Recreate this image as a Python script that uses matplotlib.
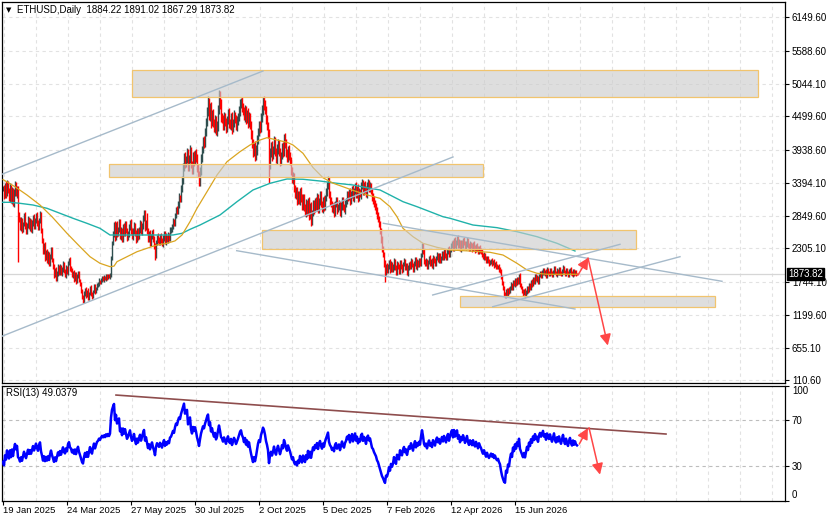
"""ETHUSD daily chart with MA, zones, trendlines and RSI(13) panel (MT4 style)."""

import matplotlib
matplotlib.use("Agg")
import matplotlib.pyplot as plt
import matplotlib.transforms as mtransforms
from matplotlib.patches import Rectangle
import numpy as np
import pandas as pd

plt.rcParams["font.family"] = ["Liberation Sans", "DejaVu Sans"]

W, H, DPI = 831, 521, 100

SYMBOL = "ETHUSD,Daily"
RSI_LABEL = "RSI(13) 49.0379"

# === Daily closes (bar 0 = 19 Jan 2025); open of a bar = previous close ===
PRE_CLOSE = [3350, 3250, 3400, 3300, 3200, 3350, 3450, 3300, 3250, 3400,
             3300, 3200, 3350, 3250, 3300]
CLOSE = [
    3300, 3180, 3350, 3220, 3400, 3250, 3150, 3320, 3100, 3280, 3050, 3230, 3380, 3200, 3300,
    2860,
    2800, 2650, 2760, 2600, 2720, 2840, 2700, 2580, 2690, 2800, 2650, 2750, 2620, 2710, 2820,
    2680, 2760, 2860, 2740, 2650, 2780, 2860,
    2600, 2450, 2250, 2350, 2150,
    2250, 2100, 2200, 2050, 2180, 2280, 2120, 2000,
    1850, 1950, 1800, 1900, 2000,
    1900, 2000, 1880, 1960, 2050, 1920, 1870, 1980, 1900, 2060, 2110, 1980,
    1950, 1850, 1900, 1800, 1880, 1760, 1840, 1900, 1780, 1700,
    1600, 1500, 1450, 1550, 1620, 1520, 1600, 1480, 1560, 1650, 1550, 1500, 1600, 1680, 1580,
    1640, 1700,
    1720, 1760, 1740, 1780, 1810, 1790, 1820, 1800, 1840, 1820, 1850, 1830, 1860,
    2150, 2400, 2550,
    2700, 2480, 2700, 2550, 2620, 2750, 2500, 2600, 2450, 2680, 2560, 2720, 2600, 2480, 2550,
    2650, 2750, 2600, 2500, 2580, 2700, 2550, 2450, 2600, 2500, 2620, 2720, 2580, 2680, 2800,
    2900, 2650,
    2750, 2600, 2450, 2550, 2400, 2500, 2580, 2450, 2350, 2200, 2400, 2500, 2450,
    2400, 2500, 2450, 2380, 2480, 2550, 2420, 2500, 2450, 2520, 2480, 2600,
    2620, 2680, 2750, 2720, 2850, 2950, 2930, 3050, 3150, 3130, 3300, 3450,
    3650, 3850, 3700, 3800, 3900, 3650, 3800, 3950, 3700, 3600, 3850, 3750, 3900, 3800, 3650,
    3550, 3400, 3600,
    3800, 3950, 4100, 4050, 4250, 4400,
    4600, 4750, 4500, 4650, 4400, 4550,
    4400, 4300, 4450, 4250, 4350,
    4600, 4850, 4700, 4500,
    4450, 4350, 4500, 4400, 4300, 4450, 4550, 4400, 4350, 4480, 4300, 4400, 4520, 4450, 4350,
    4420, 4500, 4600, 4700,
    4750, 4650, 4600,
    4500, 4600, 4450, 4550, 4400, 4500, 4350,
    4200, 4050, 3900, 4000, 3850, 3950,
    4100, 4250, 4350, 4300, 4500, 4600,
    4750, 4700, 4600, 4450, 4350,
    4200, 3700, 3900,
    4000, 3850, 3950, 4100, 3900, 3800, 3950, 4050, 3900, 3750, 3850, 4000, 3900, 4150, 4050,
    3900, 3800, 3950, 3850, 3750,
    3600, 3450, 3500, 3300, 3200, 3250, 3100,
    3200, 3100, 3250, 3150, 3000, 3150, 3000, 2900,
    3050, 2900, 3100, 2850, 3000, 2750, 2900, 3050, 2950, 3100,
    3000, 3150, 2950, 3100, 3200, 3050, 2950, 3100, 3000, 3150, 3250, 3350, 3450, 3200, 3100,
    3050, 2950, 3000, 2900, 3050, 3100, 2950, 3000, 3050, 2900, 3000, 3100, 3000, 2950, 3050,
    3100, 3200, 3150, 3250, 3100, 3200, 3300, 3150, 3250, 3350, 3200, 3300, 3150, 3250, 3200,
    3350, 3400, 3250, 3350, 3300, 3200, 3350, 3400, 3300, 3350,
    3250, 3150, 3120, 3050, 3000, 2950, 2850, 2800, 2700, 2600,
    2450, 2300, 2200,
    2050, 1900, 2000, 1950, 2000, 2080, 1950,
    2050, 1950, 2000, 2100, 1980, 1900, 2050, 2000, 1920, 2080, 2000, 1950, 2050, 2100, 1980,
    2030, 1900, 1980, 2050, 2000, 2100, 2030, 1950, 2050, 2120, 2000, 2080, 2030, 2100, 2050,
    2200, 2350, 2250, 2100, 2050,
    2100, 2000, 2080, 2150, 2050, 2100, 2020, 2150, 2100, 2050, 2150, 2200, 2120, 2180, 2100,
    2150, 2220, 2150, 2250, 2200, 2150, 2250, 2300, 2200, 2280,
    2350, 2400, 2300, 2450, 2350, 2400, 2480, 2350, 2420, 2300, 2400, 2350, 2450, 2400, 2320,
    2380, 2450, 2350, 2300, 2380,
    2350, 2300, 2380, 2320, 2280, 2350, 2300, 2250, 2320, 2280,
    2250, 2200, 2160, 2200, 2150, 2100, 2140, 2090, 2060, 2080,
    2100, 2060, 2080, 2030, 2050, 2010, 1990, 2000, 1960, 1930,
    1830, 1730, 1640, 1550, 1510,
    1600, 1550, 1620, 1580, 1650,
    1700, 1650, 1750, 1700, 1780, 1720, 1800,
    1750, 1850, 1700, 1650, 1600,
    1550, 1600, 1520, 1580, 1650, 1600, 1700, 1650,
    1750, 1700, 1800, 1750, 1850, 1780, 1820, 1750, 1850, 1900,
    1850, 1900, 1950, 1880, 1920, 1850, 1950, 1900,
    1880, 1950, 1900, 1860, 1920, 1980, 1900, 1870, 1940, 1890, 1960, 1910, 1870, 1930, 1990,
    1920, 1880, 1950, 1900, 1860, 1920, 1960, 1900, 1870, 1930, 1880, 1920, 1884.22, 1873.82,
]
# approximate shadow length beyond the body, per bar (price units)
SHADOW = [
    40, 60, 35, 70, 45, 30, 55, 65, 40, 50, 35, 60, 45, 30, 50, 40, 55, 35, 60, 45, 30, 50, 65, 40, 35,
    45, 30, 55, 40, 60, 35, 50, 45, 30, 55, 40, 35, 60, 45, 50, 30, 40, 55, 35, 45, 60, 40, 30, 50, 45,
    30, 40, 25, 45, 35, 50, 30, 40, 25, 35, 45, 30, 40, 50, 25, 35, 30, 45, 40, 25, 35, 50, 30, 40, 35,
    25, 35, 20, 40, 30, 25, 45, 30, 35, 20, 40, 25, 30, 45, 35, 20, 30, 40, 25, 35, 30, 45, 25, 35, 30,
    30, 40, 25, 35, 45, 30, 25, 40, 35, 30, 45, 50, 60, 40, 55, 35, 50, 45, 60, 40, 35, 55, 45, 40, 50,
    40, 55, 35, 50, 45, 60, 40, 35, 55, 45, 50, 40, 60, 35, 45, 55, 40, 50, 35, 60, 45, 40, 55, 50, 35,
    45, 60, 40, 50, 35, 55, 45, 40, 60, 35, 50, 45, 40, 55, 35, 50, 45, 60, 40, 35, 55, 45, 50, 40, 60,
    50, 70, 45, 60, 55, 75, 50, 65, 45, 70, 55, 60, 75, 50, 65, 55, 70, 45, 60, 75, 55, 50, 65, 70, 60,
    60, 80, 55, 75, 65, 90, 60, 70, 85, 55, 75, 65, 80, 60, 70, 90, 55, 75, 85, 60, 70, 80, 65, 75, 60,
    70, 85, 60, 75, 90, 65, 80, 55, 75, 85, 60, 70, 90, 65, 80, 75, 60, 85, 70, 65, 90, 75, 60, 80, 70,
    75, 60, 85, 70, 90, 65, 80, 75, 60, 85, 70, 90, 65, 75, 80, 60, 85, 70, 75, 90, 65, 80, 60, 75, 85,
    70, 55, 80, 65, 60, 75, 55, 70, 80, 60, 65, 75, 55, 70, 60, 80, 65, 55, 75, 70, 60, 55, 65, 75, 60,
    55, 65, 50, 70, 60, 45, 65, 55, 70, 50, 60, 65, 45, 55, 70, 60, 50, 65, 55, 45, 60, 70, 50, 55, 65,
    60, 50, 65, 55, 45, 60, 70, 50, 55, 65, 45, 60, 50, 70, 55, 60, 45, 65, 50, 55, 60, 45, 65, 55, 50,
    55, 65, 45, 60, 50, 70, 55, 45, 65, 60, 50, 55, 70, 45, 60, 65, 50, 55, 45, 60, 70, 50, 55, 65, 50,
    55, 45, 60, 50, 55, 45, 50, 60, 45, 55, 50, 40, 55, 45, 35, 40, 50, 35, 45, 40, 30, 45, 35, 40, 50,
    35, 45, 30, 40, 35, 50, 30, 45, 40, 35, 30, 45, 40, 35, 50, 30, 40, 45, 35, 30, 40, 50, 35, 45, 30,
    40, 35, 45, 30, 40, 50, 35, 45, 30, 40, 35, 50, 45, 30, 40, 35, 45, 50, 30, 40, 35, 45, 30, 40, 35,
    45, 35, 40, 50, 35, 45, 40, 30, 50, 40, 35, 45, 30, 40, 50, 35, 45, 40, 30, 50, 35, 40, 45, 35, 40,
    40, 30, 45, 35, 40, 30, 45, 35, 30, 40, 35, 45, 30, 35, 40, 30, 45, 35, 40, 30, 35, 45, 30, 40, 35,
    30, 40, 35, 25, 40, 30, 35, 25, 40, 30, 35, 25, 30, 40, 25, 35, 30, 40, 25, 35, 30, 25, 40, 30, 35,
    30, 25, 35, 30, 40, 25, 35, 30, 25, 40, 30, 35, 25, 30, 40, 35, 25, 30, 35, 40, 25, 30, 35, 30, 25,
    30, 35, 25, 30, 35, 25, 30, 40, 25, 30, 35, 25, 30, 35, 25, 30, 35, 25, 30, 25, 35, 30, 25, 30, 0,
]
# notable shadows (bar -> price)
WICK_HIGH = {144: 2894, 216: 4940, 238: 4774, 262: 4774, 419: 2400, 574: 1891.02}
WICK_LOW = {15: 2080, 80: 1400, 152: 2120, 266: 3390, 382: 1750, 503: 1500, 574: 1867.29}

# moving averages (bar, price)
MA_FAST_BAR = [0, 12, 24, 37, 49, 64, 77, 87, 97, 107, 111, 114, 124, 134, 144, 154, 164,
               172, 179, 187, 194, 204, 214, 224, 237, 247, 257, 264, 274, 284, 290, 300,
               310, 320, 330, 340, 350, 363, 377, 387, 394, 400, 410, 420, 434, 447, 467,
               487, 500, 514, 524, 534, 544, 574]
MA_FAST = [3450, 3331, 3193, 3027, 2832, 2556, 2333, 2167, 2057, 2001, 2010, 2084, 2167,
           2250, 2307, 2362, 2390, 2430, 2528, 2750, 2972, 3248, 3526, 3747, 3914, 4025,
           4108, 4147, 4108, 4070, 4025, 3887, 3650, 3480, 3390, 3331, 3270, 3200, 3138,
           2999, 2832, 2639, 2500, 2390, 2323, 2278, 2262, 2240, 2195, 2057, 1946, 1891,
           1875, 1875]
MA_SLOW_BAR = [-3, 7, 17, 30, 44, 57, 70, 84, 97, 107, 117, 130, 144, 157, 170, 179, 187,
               197, 217, 234, 250, 267, 284, 300, 317, 334, 350, 367, 377, 387, 400, 414,
               427, 440, 447, 470, 494, 514, 534, 554, 572]
MA_SLOW = [3072, 3072, 3055, 3027, 2972, 2889, 2806, 2722, 2639, 2528, 2528, 2528, 2528,
           2528, 2528, 2556, 2622, 2694, 2861, 3082, 3277, 3388, 3460, 3455, 3426, 3388,
           3360, 3305, 3277, 3193, 3082, 2999, 2916, 2832, 2806, 2694, 2650, 2583, 2500,
           2390, 2262]

# zones: (start bar, end bar, low, high)
ZONES = [(129.3, 755.3, 4819, 5278), (105.7, 480.3, 3501, 3717),
         (258.7, 633.0, 2290, 2611), (457.0, 712.3, 1325, 1513)]
# trendlines: (bar0, price0, bar1, price1)
TRENDLINES = [(-3, 3526, 260, 5256), (-3, 831, 450, 3826),
              (380.3, 2723, 719, 1758), (233.7, 2267, 572, 1297),
              (429.7, 1530, 617, 2373), (489.7, 1335, 677, 2167)]
PRICE_ARROWS = [((575, 1862), (585.3, 2150)), ((585, 2145), (604.8, 690))]
RSI_TRENDLINE = (113, 91.7, 663, 57.8)
RSI_ARROWS = [((576.3, 49.1), (584.9, 63.0)), ((586, 63.3), (597, 22.5))]

PRICE_TICKS = [6149.60, 5588.60, 5044.10, 4499.60, 3938.60, 3394.10, 2849.60, 2305.10,
               1744.10, 1199.60, 655.10, 110.60]
DATE_BARS = [0, 64, 128, 192, 256, 320, 384, 448, 512]
DATE_LABELS = ["19 Jan 2025", "24 Mar 2025", "27 May 2025", "30 Jul 2025", "2 Oct 2025",
               "5 Dec 2025", "7 Feb 2026", "12 Apr 2026", "15 Jun 2026"]
RSI_PERIOD = 13

UP_COLOR = "#2F4F4F"
DOWN_COLOR = "#FF0000"
GRID_COLOR = "#E2E2E2"
TREND_COLOR = "#A6BACA"
ARROW_COLOR = "#FF4646"
FS = 7


def wilder_rsi(values, period):
    delta = np.diff(values)
    gain = pd.Series(np.clip(delta, 0, None))
    loss = pd.Series(np.clip(-delta, 0, None))
    ag = gain.ewm(alpha=1 / period, adjust=False).mean()
    al = loss.ewm(alpha=1 / period, adjust=False).mean()
    return (100 - 100 / (1 + ag / al)).to_numpy()


closes = np.array(CLOSE, dtype=float)
shadow = np.array(SHADOW, dtype=float)
opens = np.concatenate([[PRE_CLOSE[-1]], closes[:-1]])
highs = np.maximum(opens, closes) + shadow
lows = np.minimum(opens, closes) - shadow
for b, p in WICK_HIGH.items():
    highs[b] = max(highs[b], p)
for b, p in WICK_LOW.items():
    lows[b] = min(lows[b], p)
bars = np.arange(len(closes))
rsi = wilder_rsi(np.array(PRE_CLOSE + CLOSE, dtype=float), RSI_PERIOD)[-len(closes):]

fig = plt.figure(figsize=(W / DPI, H / DPI), dpi=DPI)
ax = fig.add_axes([2 / W, 1 - 383 / H, 783 / W, 381 / H])
ax_rsi = fig.add_axes([2 / W, 1 - 500.5 / H, 783 / W, 115 / H])

grid_bars = np.arange(1, 782, 32)
for a in (ax, ax_rsi):
    a.set_xlim(-1, 782)
    a.vlines(grid_bars, 0, 1, transform=a.get_xaxis_transform(), colors=GRID_COLOR,
             linestyles=(0, (3, 3)), linewidth=0.8, zorder=0)
    for s in a.spines.values():
        s.set_linewidth(0.9)
        s.set_color("black")

# --- price panel ---
ax.set_ylim(66, 6404)
ax.hlines(PRICE_TICKS, -1, 782, colors=GRID_COLOR, linestyles=(0, (3, 3)),
          linewidth=0.8, zorder=0)
ax.axhline(closes[-1], color="#D6D6D6", linewidth=0.9, zorder=0.5)

up = closes >= opens
ax.vlines(bars[up], lows[up], highs[up], colors=UP_COLOR, linewidth=1.0, zorder=2)
ax.vlines(bars[~up], lows[~up], highs[~up], colors=DOWN_COLOR, linewidth=1.0, zorder=2)

ax.plot(MA_SLOW_BAR, MA_SLOW, color="#20B2AA", linewidth=1.0, zorder=3)
ax.plot(MA_FAST_BAR, MA_FAST, color="#DAA520", linewidth=0.9, zorder=3)

for x0, x1, lo, hi in ZONES:
    ax.add_patch(Rectangle((x0, lo), x1 - x0, hi - lo, facecolor="#CCCCCC", alpha=0.63,
                           edgecolor="none", zorder=4))
    ax.add_patch(Rectangle((x0, lo), x1 - x0, hi - lo, facecolor="none",
                           edgecolor="#F1C46E", linewidth=0.9, zorder=4.1))

for x0, p0, x1, p1 in TRENDLINES:
    ax.plot([x0, x1], [p0, p1], color=TREND_COLOR, linewidth=1.0, zorder=5)

arrow_props = dict(arrowstyle="-|>,head_length=0.55,head_width=0.28", color=ARROW_COLOR,
                   linewidth=1.1, shrinkA=0, shrinkB=0, mutation_scale=12)
for start, tip in PRICE_ARROWS:
    ax.annotate("", xy=tip, xytext=start, arrowprops=arrow_props, zorder=6)

ax.set_xticks([])
ax.yaxis.tick_right()
ax.set_yticks(PRICE_TICKS)
ax.set_yticklabels([f"{t:.2f}" for t in PRICE_TICKS])
ax.tick_params(axis="y", direction="out", length=3, width=0.8, pad=2, labelsize=FS)

# current price tag
tag_tr = mtransforms.offset_copy(
    mtransforms.blended_transform_factory(ax.transAxes, ax.transData),
    fig=fig, x=3, y=0, units="dots")
ax.text(1.0, closes[-1], f"{closes[-1]:.2f}", transform=tag_tr, ha="left", va="center",
        fontsize=FS, color="white", zorder=10, clip_on=False,
        bbox=dict(boxstyle="square,pad=0.12", facecolor="black", edgecolor="black"))

# header
fig.text(6 / W, 1 - 10 / H, "\u25BC", fontsize=5, va="center", ha="left",
         family="DejaVu Sans")
fig.text(17 / W, 1 - 10 / H,
         f"{SYMBOL}  {opens[-1]:.2f} {highs[-1]:.2f} {lows[-1]:.2f} {closes[-1]:.2f}",
         fontsize=FS, va="center", ha="left")

# --- RSI panel ---
ax_rsi.set_ylim(0, 100)
for lvl in (70, 30):
    ax_rsi.axhline(lvl, color="#BDBDBD", linestyle=(0, (3, 3)), linewidth=0.8, zorder=0)
ax_rsi.plot(bars, rsi, color="#0000FF", linewidth=1.8, zorder=3)
rx0, rv0, rx1, rv1 = RSI_TRENDLINE
ax_rsi.plot([rx0, rx1], [rv0, rv1], color="#8E4D4D", linewidth=1.2, zorder=4)
for start, tip in RSI_ARROWS:
    ax_rsi.annotate("", xy=tip, xytext=start, arrowprops=arrow_props, zorder=6)
ax_rsi.text(4 / 783, 1 - 8 / 115, RSI_LABEL, transform=ax_rsi.transAxes, fontsize=FS,
            va="center", ha="left")

ax_rsi.yaxis.tick_right()
ax_rsi.set_yticks([0, 30, 70, 100])
ax_rsi.set_yticklabels(["0", "30", "70", "100"])
ax_rsi.tick_params(axis="y", direction="out", length=3, width=0.8, pad=2, labelsize=FS)
ylabels = ax_rsi.get_yticklabels()
ylabels[0].set_va("bottom")
ylabels[-1].set_va("top")

ax_rsi.set_xticks(DATE_BARS)
ax_rsi.set_xticklabels(DATE_LABELS)
ax_rsi.tick_params(axis="x", direction="out", length=3, width=0.8, pad=1, labelsize=6.8)
for lbl in ax_rsi.get_xticklabels():
    lbl.set_ha("left")

fig.savefig("out.png", dpi=DPI)
plt.close()
